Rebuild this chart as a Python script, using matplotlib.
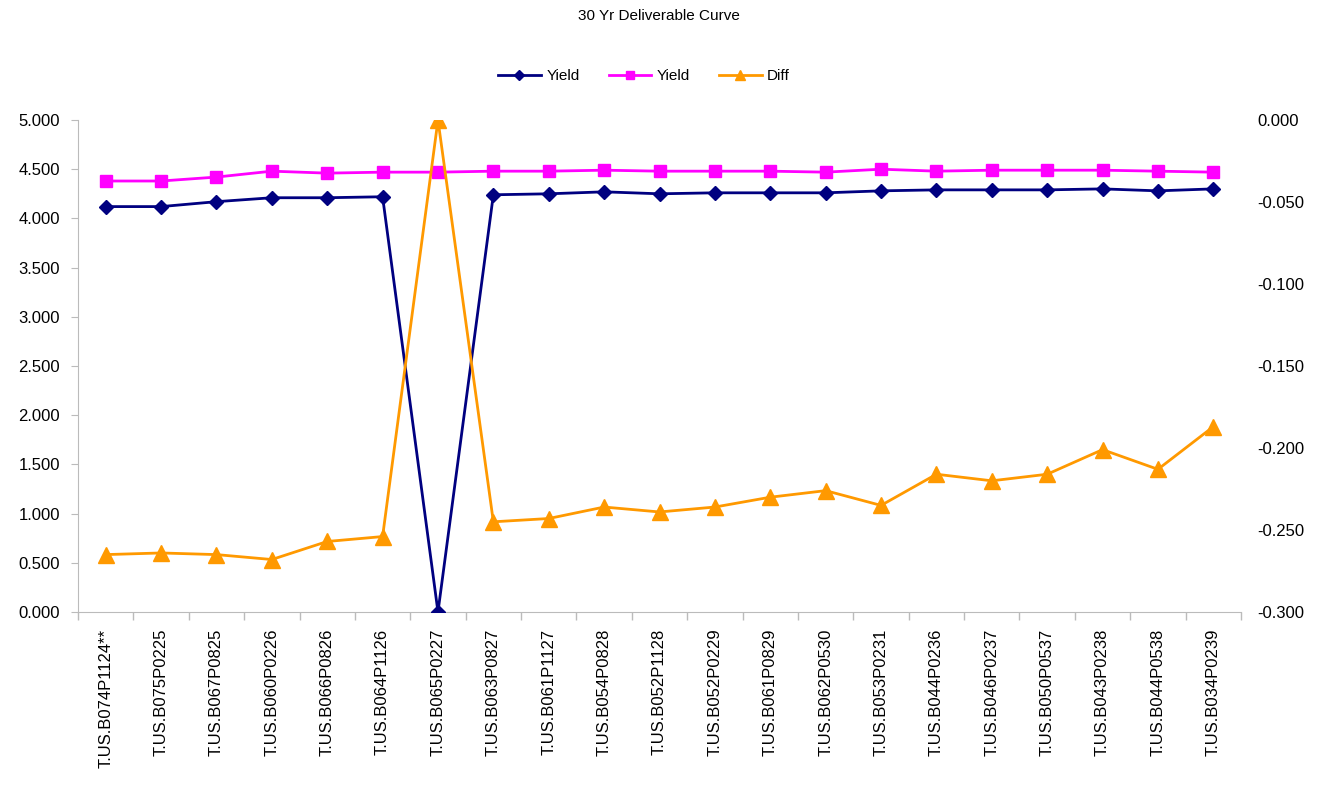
import matplotlib
matplotlib.use("Agg")
import matplotlib.pyplot as plt
from matplotlib.ticker import FixedLocator, FormatStrFormatter

plt.rcParams['font.family'] = ['Liberation Sans', 'DejaVu Sans']

bonds = ["T.US.B074P1124**", "T.US.B075P0225", "T.US.B067P0825", "T.US.B060P0226",
         "T.US.B066P0826", "T.US.B064P1126", "T.US.B065P0227", "T.US.B063P0827",
         "T.US.B061P1127", "T.US.B054P0828", "T.US.B052P1128", "T.US.B052P0229",
         "T.US.B061P0829", "T.US.B062P0530", "T.US.B053P0231", "T.US.B044P0236",
         "T.US.B046P0237", "T.US.B050P0537", "T.US.B043P0238", "T.US.B044P0538",
         "T.US.B034P0239"]

yield_a = [4.12, 4.12, 4.17, 4.21, 4.21, 4.22, 0.00, 4.24, 4.25, 4.27, 4.25,
           4.26, 4.26, 4.26, 4.28, 4.29, 4.29, 4.29, 4.30, 4.28, 4.30]
yield_b = [4.38, 4.38, 4.42, 4.48, 4.46, 4.47, 4.47, 4.48, 4.48, 4.49, 4.48,
           4.48, 4.48, 4.47, 4.50, 4.48, 4.49, 4.49, 4.49, 4.48, 4.47]
diff = [-0.265, -0.264, -0.265, -0.268, -0.257, -0.254, 0.000, -0.245, -0.243,
        -0.236, -0.239, -0.236, -0.230, -0.226, -0.235, -0.216, -0.220, -0.216,
        -0.201, -0.213, -0.187]

NAVY = "#000080"
MAGENTA = "#FF00FF"
ORANGE = "#FF9900"

fig = plt.figure(figsize=(13.17, 7.91), dpi=100)
ax = fig.add_axes([78 / 1317, 1 - 612 / 791, (1241 - 78) / 1317, (612 - 120) / 791])
ax2 = ax.twinx()

x = list(range(len(bonds)))
l1, = ax.plot(x, yield_a, color=NAVY, lw=2, marker="D", ms=7, zorder=3, label="Yield")
l2, = ax.plot(x, yield_b, color=MAGENTA, lw=2, marker="s", ms=9, zorder=3, label="Yield")
l3, = ax2.plot(x, diff, color=ORANGE, lw=2, marker="^", ms=11, zorder=3, label="Diff")

ax.set_xlim(-0.5, len(bonds) - 0.5)
ax.set_ylim(0, 5)
ax2.set_ylim(-0.3, 0)

ax.set_yticks([i * 0.5 for i in range(11)])
ax.yaxis.set_major_formatter(FormatStrFormatter("%.3f"))
ax2.set_yticks([-0.3, -0.25, -0.2, -0.15, -0.1, -0.05, 0.0])
ax2.yaxis.set_major_formatter(FormatStrFormatter("%.3f"))

ax.set_xticks(x)
ax.set_xticklabels(bonds, rotation=90, fontsize=12)
ax.xaxis.set_minor_locator(FixedLocator([i - 0.5 for i in range(len(bonds) + 1)]))
ax.tick_params(axis="x", which="major", length=0, pad=12)
ax.tick_params(axis="x", which="minor", length=6, color="#BBBBBB", width=1)
ax.tick_params(axis="y", length=5, color="#BBBBBB", labelsize=12, pad=8)
ax2.tick_params(axis="y", length=0, labelsize=12, pad=12)

for a in (ax, ax2):
    for side in ("top", "right"):
        a.spines[side].set_visible(False)
ax2.spines["left"].set_visible(False)
ax2.spines["bottom"].set_visible(False)
ax.spines["left"].set_color("#BBBBBB")
ax.spines["bottom"].set_color("#BBBBBB")

fig.text(0.5, 1 - 16 / 791, "30 Yr Deliverable Curve", ha="center", va="center", fontsize=11)

fig.legend(handles=[l1, l2, l3], loc="center", bbox_to_anchor=(644 / 1317, 1 - 76 / 791),
           ncol=3, frameon=False, fontsize=11, handlelength=2.8, columnspacing=1.9,
           handletextpad=0.35, markerscale=0.7)

fig.savefig("out.png", dpi=100)
